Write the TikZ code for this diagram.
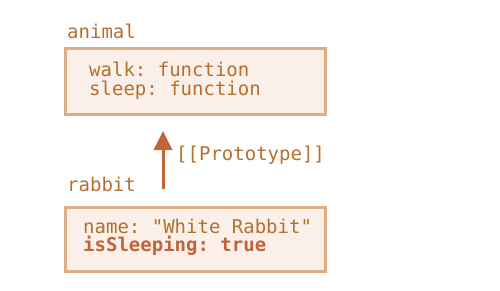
\documentclass[tikz,border=0pt]{standalone}
\usepackage{fontspec}
\setmonofont{DejaVu Sans Mono}
\usetikzlibrary{arrows.meta}
\definecolor{boxborder}{HTML}{DEAD84}
\definecolor{boxfill}{HTML}{FBF0E9}
\definecolor{labeltext}{HTML}{B2712F}
\definecolor{accent}{HTML}{C0643A}
\begin{document}
\begin{tikzpicture}[x=1pt,y=-1pt,
  objbox/.style={draw=boxborder, fill=boxfill, line width=3pt},
  codetext/.style={anchor=west, inner sep=0pt, text=labeltext,
    font=\ttfamily\fontsize{19}{22}\selectfont},
  proto/.style={draw=accent, line width=3pt, -{Triangle[width=18pt,length=19pt]}}]
  \useasboundingbox (0,0) rectangle (500,290);
  % prototype object
  \node[codetext] (animallbl) at (67,31) {animal};
  \path[objbox] (65,48) rectangle (325,114);
  \node[codetext] (walk) at (89,69) {walk: function};
  \node[codetext] (sleep) at (89,90) {sleep: function};
  % inheriting object
  \node[codetext] (rabbitlbl) at (67,184) {rabbit};
  \path[objbox] (65,207) rectangle (325,271);
  \node[codetext] (name) at (83,226) {name: "White Rabbit"};
  \node[codetext, text=accent, font=\ttfamily\bfseries\fontsize{19}{22}\selectfont] (sleeping) at (83,246) {isSleeping: true};
  % prototype link
  \coordinate (linkfrom) at (163,189);
  \coordinate (linkto) at (163,131);
  \draw[proto] (linkfrom) -- (linkto);
  \node[codetext] (protolbl) at (176,155) {[[Prototype]]};
\end{tikzpicture}
\end{document}
